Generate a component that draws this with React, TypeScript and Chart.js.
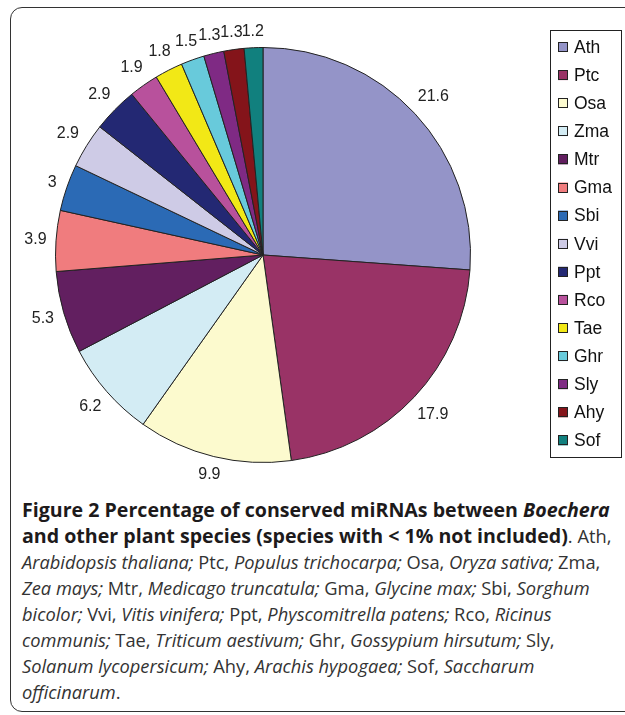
import React, { useEffect, useRef } from "react";
import { Chart, registerables } from "chart.js";

Chart.register(...registerables);

const species = ["Ath", "Ptc", "Osa", "Zma", "Mtr", "Gma", "Sbi", "Vvi", "Ppt", "Rco", "Tae", "Ghr", "Sly", "Ahy", "Sof"];
const percentages = [21.6, 17.9, 9.9, 6.2, 5.3, 3.9, 3, 2.9, 2.9, 1.9, 1.8, 1.5, 1.3, 1.3, 1.2];
const sliceColors = [
  "#9494C8", "#993366", "#FCFACE", "#D3ECF4", "#621F60", "#F07C7E", "#2B6AB5", "#CECBE6",
  "#232873", "#B8519C", "#F2E816", "#68CADB", "#7F2A84", "#84141A", "#11807E",
];

const sliceLabelPlugin = {
  id: "sliceLabels",
  afterDatasetsDraw(chart: any, _args: any, opts: any) {
    const ctx = chart.ctx;
    const meta = chart.getDatasetMeta(0);
    const values = chart.data.datasets[0].data;
    ctx.save();
    ctx.font = opts.font;
    ctx.fillStyle = opts.color;
    ctx.textAlign = "center";
    ctx.textBaseline = "middle";
    meta.data.forEach((arc: any, i: number) => {
      const p = arc.getProps(["x", "y", "startAngle", "endAngle", "outerRadius"], true);
      const mid = (p.startAngle + p.endAngle) / 2;
      const text = String(values[i]);
      const w = ctx.measureText(text).width;
      const h = opts.textHeight;
      const c = Math.cos(mid);
      const s = Math.sin(mid);
      const d = p.outerRadius + opts.gap + (w / 2) * Math.abs(c) + (h / 2) * Math.abs(s);
      ctx.fillText(text, p.x + d * c, p.y + d * s);
    });
    ctx.restore();
  },
};

const boxLegendPlugin = {
  id: "boxLegend",
  afterDraw(chart: any, _args: any, opts: any) {
    const ctx = chart.ctx;
    const labels = chart.data.labels;
    const colors = chart.data.datasets[0].backgroundColor;
    ctx.save();
    ctx.strokeStyle = opts.borderColor;
    ctx.lineWidth = 1;
    ctx.strokeRect(opts.left + 0.5, opts.top + 0.5, opts.width, opts.height);
    ctx.font = opts.font;
    ctx.textBaseline = "middle";
    ctx.textAlign = "left";
    labels.forEach((lab: string, i: number) => {
      const cy = opts.firstY + i * opts.spacing;
      ctx.fillStyle = colors[i];
      ctx.fillRect(opts.boxX, cy - opts.box / 2, opts.box, opts.box);
      ctx.strokeStyle = "#222";
      ctx.strokeRect(opts.boxX + 0.5, Math.round(cy - opts.box / 2) + 0.5, opts.box - 1, opts.box - 1);
      ctx.fillStyle = opts.color;
      ctx.fillText(lab, opts.textX, cy + 1);
    });
    ctx.restore();
  },
};

function PieChart() {
  const ref = useRef<HTMLCanvasElement | null>(null);
  useEffect(() => {
    if (!ref.current) return;
    const chart = new Chart(ref.current, {
      type: "pie",
      data: {
        labels: species,
        datasets: [
          {
            data: percentages,
            backgroundColor: sliceColors,
            borderColor: "#222222",
            borderWidth: 1,
          },
        ],
      },
      options: {
        responsive: false,
        animation: false,
        layout: { padding: { left: 55, top: 47, right: 154, bottom: 27 } },
        plugins: {
          legend: { display: false },
          tooltip: { enabled: false },
          sliceLabels: { font: "16px 'Liberation Sans', Arial, sans-serif", color: "#222", gap: 9, textHeight: 14 },
          boxLegend: {
            left: 550, top: 30, width: 71, height: 427,
            borderColor: "#222",
            font: "17.5px 'Liberation Sans', Arial, sans-serif",
            color: "#111",
            firstY: 47, spacing: 28.1, box: 10, boxX: 558, textX: 574,
          },
        },
      } as any,
      plugins: [sliceLabelPlugin, boxLegendPlugin],
    });
    return () => chart.destroy();
  }, []);
  return <canvas ref={ref} width={625} height={490} style={{ position: "absolute", left: 0, top: 0, width: 625, height: 490 }} />;
}

const lineStyle: React.CSSProperties = { whiteSpace: "nowrap", height: 26 };
const boldStyle: React.CSSProperties = { color: "#1d1a1b", fontSize: 19.6 };

export default function App() {
  return (
    <div style={{ position: "fixed", left: 0, top: 0, width: 625, height: 715, overflow: "hidden", background: "#fff" }}>
      <div
        style={{
          position: "absolute", left: 10, top: 7, width: 700, height: 705,
          border: "1.5px solid #333", borderRadius: 12, boxSizing: "border-box",
        }}
      />
      <PieChart />
      <div
        style={{
          position: "absolute", left: 22, top: 497, fontFamily: "'Open Sans', sans-serif",
          fontSize: 18.3, lineHeight: "26px", color: "#333",
        }}
      >
        <div style={lineStyle}><b style={boldStyle}>Figure 2 Percentage of conserved miRNAs between <i>Boechera</i></b></div>
        <div style={lineStyle}><b style={boldStyle}>and other plant species (species with &lt; 1% not included)</b>. Ath,</div>
        <div style={lineStyle}><i>Arabidopsis thaliana;</i> Ptc, <i>Populus trichocarpa;</i> Osa, <i>Oryza sativa;</i> Zma,</div>
        <div style={lineStyle}><i>Zea mays;</i> Mtr, <i>Medicago truncatula;</i> Gma, <i>Glycine max;</i> Sbi, <i>Sorghum</i></div>
        <div style={lineStyle}><i>bicolor;</i> Vvi, <i>Vitis vinifera;</i> Ppt, <i>Physcomitrella patens;</i> Rco, <i>Ricinus</i></div>
        <div style={lineStyle}><i>communis;</i> Tae, <i>Triticum aestivum;</i> Ghr, <i>Gossypium hirsutum;</i> Sly,</div>
        <div style={lineStyle}><i>Solanum lycopersicum;</i> Ahy, <i>Arachis hypogaea;</i> Sof, <i>Saccharum</i></div>
        <div style={lineStyle}><i>officinarum</i>.</div>
      </div>
    </div>
  );
}
